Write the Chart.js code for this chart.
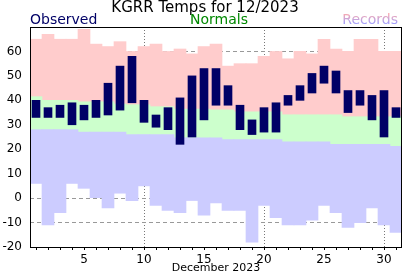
<!DOCTYPE html>
<html lang="en">
  <head>
    <meta charset="UTF-8" />
    <title>KGRR Temps for 12/2023</title>
    <script src="https://cdn.jsdelivr.net/npm/chart.js"></script>
    <style>
      html, body { margin: 0; padding: 0; background: #ffffff; }
      .wrap { width: 412px; height: 276px; }
    </style>
  </head>
  <body>
    <div class="wrap">
      <canvas id="tempChart" width="412" height="276"></canvas>
    </div>

    <script>
      // day of month
      const days = [1, 2, 3, 4, 5, 6, 7, 8, 9, 10, 11, 12, 13, 14, 15, 16,
        17, 18, 19, 20, 21, 22, 23, 24, 25, 26, 27, 28, 29, 30, 31];

      // observed high / low
      const obsHigh = [40, 37, 38, 39, 38, 40, 47, 54, 58, 40, 34, 37, 41, 50, 53, 53,
        46, 38, 32, 37, 39, 42, 46, 51, 54, 52, 44, 44, 42, 44, 37];
      const obsLow = [33, 33, 33, 30, 32, 33, 34, 36, 39, 31, 29, 28, 22, 25, 32, 38,
        38, 28, 26, 27, 27, 38, 40, 43, 47, 43, 35, 38, 32, 25, 33];

      // normals
      const normHigh = [41.5, 40, 40, 40, 39.4, 39.4, 39.4, 38.5, 38.2, 38.2, 37.4, 37.4,
        36.4, 36.4, 36.4, 36.1, 36.1, 35.3, 35.3, 35.3, 35.3, 34.1, 34.1, 34.1, 34.1, 34.1,
        33.3, 33.3, 33.3, 33.3, 33.3];
      const normLow = [28, 28, 28, 28, 27, 27, 27, 27, 26, 26, 26, 26, 24.7, 24.7, 24.7, 24.7,
        23.9, 23.9, 23.9, 23.9, 23.9, 23, 23, 23, 23, 22, 22, 22, 22, 22, 21.2];

      // records
      const recHigh = [65, 67, 65, 65, 69, 63, 62, 64, 60, 62, 63, 60, 61, 59, 62, 63,
        54, 55, 55, 58, 60, 57, 60, 59, 65, 61, 60, 65, 65, 60, 60];
      const recLow = [6, -11, -6, 6, 4, 0, -4, 2, -1, 5, -3, -5, -6, -1, -7, -2,
        -5, -5, -18, -3, -8, -11, -11, -9, -3, -6, -12, -10, -4, -11, -14];

      const yTicks = [-20, -10, 0, 10, 20, 30, 40, 50, 60];

      const FONT = '"DejaVu Sans", Verdana, sans-serif';

      const pair = (a, b) => a.map((v, i) => [v, b[i]]);

      // title, series names and frame box
      const textPlugin = {
        id: "textPlugin",
        afterDraw(chart) {
          const c = chart.ctx;
          const area = chart.chartArea;
          c.save();
          c.textBaseline = "alphabetic";

          c.font = "15px " + FONT;
          c.fillStyle = "#000000";
          c.textAlign = "center";
          c.fillText("KGRR Temps for 12/2023", 205, 12);

          c.font = "14px " + FONT;
          c.textAlign = "left";
          c.fillStyle = "#000066";
          c.fillText("Observed", 30, 24);

          c.textAlign = "center";
          c.fillStyle = "#008800";
          c.fillText("Normals", 219, 24);

          const g = c.createLinearGradient(0, 13, 0, 24);
          g.addColorStop(0, "#ffaaaa");
          g.addColorStop(1, "#a0a0ff");
          c.textAlign = "right";
          c.fillStyle = g;
          c.fillText("Records", 398, 24);

          c.strokeStyle = "#000000";
          c.lineWidth = 1;
          c.strokeRect(
            Math.round(area.left) + 0.5,
            Math.round(area.top) + 0.5,
            Math.round(area.right - area.left) - 1,
            Math.round(area.bottom - area.top)
          );
          c.restore();
        },
      };

      const ctx = document.getElementById("tempChart").getContext("2d");
      const tempChart = new Chart(ctx, {
        type: "bar",
        data: {
          labels: days,
          datasets: [
            {
              label: "Record high",
              data: pair(normHigh, recHigh),
              backgroundColor: "#ffcccc",
              barPercentage: 1,
              categoryPercentage: 1,
              order: 4,
            },
            {
              label: "Normal",
              data: pair(normLow, normHigh),
              backgroundColor: "#ccffcc",
              barPercentage: 1,
              categoryPercentage: 1,
              order: 3,
            },
            {
              label: "Record low",
              data: pair(recLow, normLow),
              backgroundColor: "#ccccff",
              barPercentage: 1,
              categoryPercentage: 1,
              order: 2,
            },
            {
              label: "Observed",
              data: pair(obsLow, obsHigh),
              backgroundColor: "#000066",
              barThickness: 8,
              order: 1,
            },
          ],
        },
        options: {
          responsive: false,
          animation: false,
          devicePixelRatio: 1,
          layout: {
            padding: { top: 27, right: 10, left: 0, bottom: 0 },
          },
          datasets: {
            bar: { grouped: false, borderWidth: 0 },
          },
          plugins: {
            legend: { display: false },
            title: { display: false },
            tooltip: { enabled: false },
          },
          scales: {
            x: {
              z: 1,
              offset: true,
              afterFit(scale) {
                scale.height = 29;
              },
              border: { display: false, dash: [1, 2] },
              grid: {
                offset: false,
                drawTicks: true,
                tickLength: 3,
                tickColor: "#000000",
                lineWidth: 1,
                color: (c) =>
                  c.tick && days[c.index] % 10 === 0 ? "#777777" : "rgba(0,0,0,0)",
              },
              ticks: {
                autoSkip: false,
                maxRotation: 0,
                padding: 3,
                color: "#000000",
                font: { family: FONT, size: 12 },
                callback: (val, i) => (days[i] % 5 === 0 ? String(days[i]) : ""),
              },
              title: {
                display: true,
                text: "December 2023",
                color: "#000000",
                font: { family: FONT, size: 11 },
                padding: { top: 0, bottom: 1 },
              },
            },
            y: {
              z: 1,
              min: -20,
              max: 70,
              afterFit(scale) {
                scale.width = 30;
              },
              afterBuildTicks(scale) {
                scale.ticks = yTicks.concat([70]).map((v) => ({ value: v }));
              },
              border: { display: false, dash: [4, 3] },
              grid: {
                drawTicks: false,
                color: "#999999",
                lineWidth: 1,
              },
              ticks: {
                padding: 8,
                color: "#000000",
                font: { family: FONT, size: 12 },
                callback: (v) => (yTicks.includes(v) ? String(v) : ""),
              },
            },
          },
        },
        plugins: [textPlugin],
      });
    </script>
  </body>
</html>
